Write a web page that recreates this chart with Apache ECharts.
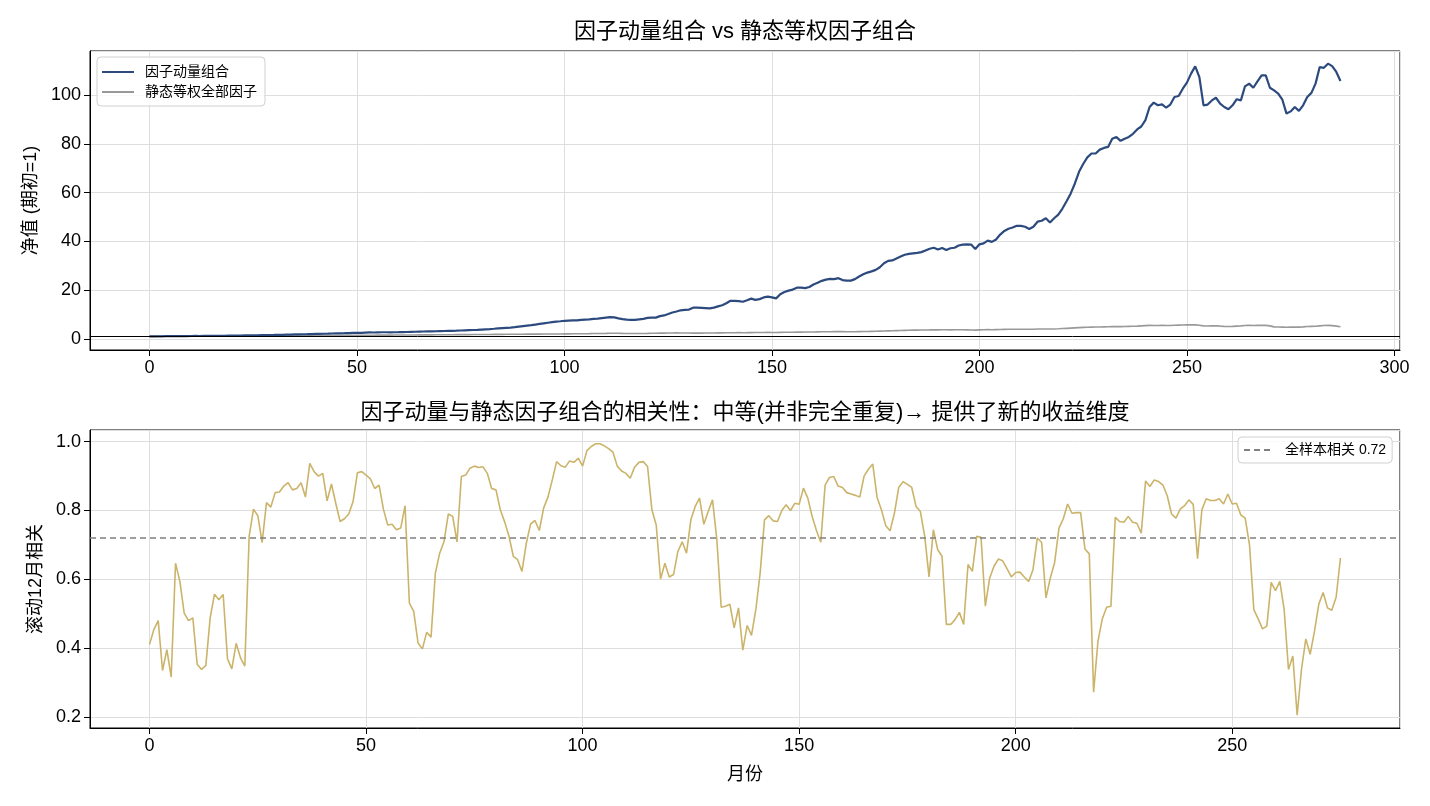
<!DOCTYPE html>
<html>
<head>
<meta charset="utf-8">
<script src="https://cdn.jsdelivr.net/npm/echarts@6/dist/echarts.min.js"></script>
<style>
  html, body { margin: 0; padding: 0; background: #fff; }
  #main { width: 1430px; height: 806px; }
</style>
</head>
<body>
<div id="main"></div>
<script>
// 因子动量组合 净值 (month 0..287)
const momentumNav = [
  1.00, 1.02, 1.04, 1.03, 1.06, 1.08, 1.07, 1.10, 1.12, 1.11,
  1.14, 1.17, 1.16, 1.19, 1.22, 1.21, 1.20, 1.23, 1.26, 1.28,
  1.30, 1.33, 1.35, 1.38, 1.40, 1.42, 1.45, 1.48, 1.50, 1.55,
  1.58, 1.62, 1.65, 1.70, 1.74, 1.78, 1.82, 1.86, 1.90, 1.95,
  2.00, 2.04, 2.08, 2.12, 2.18, 2.22, 2.26, 2.30, 2.36, 2.42,
  2.48, 2.45, 2.55, 2.60, 2.58, 2.66, 2.70, 2.68, 2.64, 2.70,
  2.72, 2.78, 2.80, 2.85, 2.90, 2.95, 3.00, 3.05, 3.02, 3.10,
  3.15, 3.20, 3.25, 3.28, 3.32, 3.40, 3.48, 3.55, 3.62, 3.70,
  3.80, 3.90, 4.00, 4.12, 4.25, 4.38, 4.50, 4.62, 4.80, 5.00,
  5.20, 5.40, 5.60, 5.85, 6.10, 6.35, 6.60, 6.85, 7.05, 7.2,
  7.4, 7.5, 7.6, 7.6, 7.8, 7.9, 8.0, 8.2, 8.3, 8.5,
  8.7, 8.9, 8.8, 8.4, 8.1, 7.9, 7.8, 7.8, 8.0, 8.2,
  8.6, 8.7, 8.7, 9.3, 9.6, 10.2, 10.8, 11.2, 11.7, 11.9,
  12.0, 12.8, 12.8, 12.7, 12.6, 12.5, 12.8, 13.3, 13.8, 14.6,
  15.6, 15.6, 15.5, 15.2, 15.8, 16.5, 16.0, 16.3, 17.0, 17.3,
  17.0, 16.6, 18.3, 19.2, 19.8, 20.2, 21.0, 21.0, 20.8, 21.3,
  22.3, 23.0, 23.8, 24.3, 24.6, 24.5, 24.9, 24.1, 23.9, 23.9,
  24.5, 25.6, 26.5, 27.2, 27.7, 28.3, 29.4, 31.0, 32.0, 32.2,
  33.0, 33.8, 34.5, 34.9, 35.1, 35.3, 35.6, 36.3, 37.0, 37.4,
  36.7, 37.3, 36.5, 37.2, 37.4, 38.3, 38.7, 38.8, 38.7, 36.9,
  38.8, 39.2, 40.3, 39.8, 40.8, 42.8, 44.3, 45.2, 45.7, 46.4,
  46.4, 46.0, 45.1, 46.0, 48.1, 48.5, 49.5, 47.8, 49.5, 51.0,
  53.5, 56.5, 59.7, 63.8, 68.6, 71.8, 74.5, 76.1, 76.1, 77.7,
  78.4, 78.8, 82.2, 82.9, 81.3, 82.2, 82.9, 84.2, 86.0, 87.2,
  89.8, 95.2, 97.0, 95.9, 96.3, 94.9, 96.2, 99.3, 99.7, 102.7,
  105.2, 108.9, 111.9, 107.5, 95.9, 96.2, 97.9, 99.0, 96.6, 95.2,
  94.3, 95.9, 98.4, 97.9, 103.7, 104.8, 103.1, 105.7, 108.2, 108.2,
  103.1, 102.0, 100.7, 98.2, 92.5, 93.4, 95.2, 93.6, 95.9, 99.3,
  101.0, 104.8, 111.6, 111.3, 113.0, 112.0, 109.6, 105.9
];

// 静态等权全部因子 净值
const staticNav = [
  1.00, 1.01, 1.02, 1.02, 1.03, 1.04, 1.04, 1.05, 1.06, 1.06,
  1.07, 1.08, 1.09, 1.08, 1.10, 1.11, 1.11, 1.12, 1.13, 1.13,
  1.14, 1.15, 1.16, 1.17, 1.17, 1.18, 1.19, 1.20, 1.21, 1.21,
  1.22, 1.23, 1.24, 1.25, 1.26, 1.27, 1.28, 1.29, 1.30, 1.31,
  1.32, 1.33, 1.34, 1.35, 1.36, 1.37, 1.38, 1.40, 1.41, 1.42,
  1.43, 1.44, 1.45, 1.47, 1.48, 1.49, 1.50, 1.51, 1.52, 1.53,
  1.54, 1.55, 1.56, 1.57, 1.58, 1.60, 1.61, 1.62, 1.63, 1.64,
  1.65, 1.66, 1.68, 1.69, 1.70, 1.71, 1.72, 1.73, 1.74, 1.76,
  1.77, 1.78, 1.79, 1.80, 1.81, 1.82, 1.84, 1.85, 1.86, 1.87,
  1.88, 1.90, 1.91, 1.92, 1.93, 1.95, 1.96, 1.97, 1.98, 2.00,
  2.02, 2.03, 2.05, 2.06, 2.08, 2.10, 2.12, 2.15, 2.18, 2.20,
  2.22, 2.25, 2.28, 2.26, 2.22, 2.20, 2.18, 2.17, 2.18, 2.20,
  2.22, 2.25, 2.28, 2.32, 2.35, 2.38, 2.40, 2.42, 2.40, 2.38,
  2.36, 2.35, 2.34, 2.35, 2.36, 2.38, 2.40, 2.42, 2.44, 2.46,
  2.48, 2.50, 2.52, 2.50, 2.52, 2.55, 2.56, 2.58, 2.60, 2.62,
  2.60, 2.58, 2.62, 2.66, 2.70, 2.72, 2.75, 2.76, 2.78, 2.80,
  2.82, 2.85, 2.88, 2.90, 2.92, 2.94, 2.95, 2.93, 2.90, 2.90,
  2.92, 2.95, 2.98, 3.00, 3.05, 3.10, 3.15, 3.20, 3.25, 3.30,
  3.35, 3.40, 3.45, 3.50, 3.55, 3.58, 3.60, 3.62, 3.65, 3.70,
  3.68, 3.72, 3.70, 3.68, 3.70, 3.72, 3.70, 3.68, 3.62, 3.55,
  3.65, 3.70, 3.75, 3.72, 3.78, 3.82, 3.86, 3.90, 3.92, 3.95,
  3.95, 3.92, 3.90, 3.95, 4.00, 4.02, 4.05, 4.00, 4.05, 4.10,
  4.20, 4.30, 4.40, 4.50, 4.60, 4.70, 4.75, 4.80, 4.82, 4.85,
  4.90, 4.95, 5.00, 5.05, 5.02, 5.05, 5.10, 5.15, 5.20, 5.30,
  5.40, 5.50, 5.48, 5.45, 5.50, 5.45, 5.48, 5.55, 5.60, 5.65,
  5.70, 5.72, 5.70, 5.55, 5.30, 5.25, 5.30, 5.35, 5.20, 5.10,
  5.05, 5.10, 5.20, 5.30, 5.45, 5.50, 5.45, 5.50, 5.55, 5.50,
  5.30, 4.90, 4.85, 4.80, 4.75, 4.80, 4.85, 4.80, 4.90, 5.05,
  5.10, 5.15, 5.30, 5.45, 5.50, 5.40, 5.20, 4.95
];

// 滚动12月相关 (month 0..275)
const rollingCorr = [
  0.411, 0.454, 0.480, 0.335, 0.396, 0.316, 0.647, 0.594, 0.502, 0.480,
  0.488, 0.353, 0.338, 0.350, 0.488, 0.557, 0.541, 0.556, 0.369, 0.340,
  0.414, 0.372, 0.348, 0.725, 0.804, 0.785, 0.707, 0.823, 0.810, 0.852,
  0.854, 0.871, 0.881, 0.860, 0.864, 0.881, 0.839, 0.937, 0.913, 0.900,
  0.908, 0.828, 0.877, 0.821, 0.768, 0.776, 0.790, 0.826, 0.910, 0.913,
  0.903, 0.892, 0.864, 0.874, 0.804, 0.758, 0.760, 0.744, 0.749, 0.814,
  0.531, 0.507, 0.415, 0.398, 0.446, 0.432, 0.618, 0.676, 0.710, 0.790,
  0.783, 0.709, 0.899, 0.903, 0.923, 0.929, 0.925, 0.927, 0.908, 0.864,
  0.860, 0.802, 0.767, 0.725, 0.667, 0.657, 0.623, 0.705, 0.761, 0.771,
  0.742, 0.807, 0.839, 0.889, 0.942, 0.930, 0.926, 0.944, 0.940, 0.952,
  0.929, 0.974, 0.986, 0.994, 0.994, 0.988, 0.980, 0.970, 0.929, 0.915,
  0.908, 0.894, 0.926, 0.940, 0.942, 0.928, 0.802, 0.758, 0.601, 0.647,
  0.607, 0.614, 0.681, 0.709, 0.676, 0.773, 0.812, 0.836, 0.760, 0.797,
  0.831, 0.715, 0.519, 0.522, 0.528, 0.459, 0.517, 0.394, 0.466, 0.437,
  0.512, 0.618, 0.773, 0.785, 0.770, 0.768, 0.800, 0.817, 0.800, 0.821,
  0.818, 0.865, 0.836, 0.783, 0.742, 0.708, 0.874, 0.896, 0.899, 0.871,
  0.867, 0.852, 0.848, 0.844, 0.839, 0.900, 0.920, 0.935, 0.838, 0.802,
  0.756, 0.741, 0.792, 0.867, 0.884, 0.876, 0.867, 0.812, 0.797, 0.725,
  0.607, 0.744, 0.686, 0.667, 0.469, 0.469, 0.483, 0.504, 0.469, 0.643,
  0.623, 0.725, 0.722, 0.522, 0.604, 0.638, 0.659, 0.654, 0.631, 0.607,
  0.620, 0.621, 0.607, 0.594, 0.628, 0.720, 0.707, 0.546, 0.604, 0.649,
  0.749, 0.776, 0.819, 0.792, 0.794, 0.794, 0.688, 0.674, 0.272, 0.420,
  0.485, 0.519, 0.522, 0.780, 0.768, 0.766, 0.783, 0.766, 0.763, 0.734,
  0.886, 0.870, 0.889, 0.884, 0.874, 0.843, 0.790, 0.778, 0.804, 0.814,
  0.831, 0.818, 0.660, 0.802, 0.834, 0.829, 0.829, 0.834, 0.819, 0.848,
  0.819, 0.821, 0.787, 0.778, 0.700, 0.512, 0.485, 0.456, 0.464, 0.591,
  0.567, 0.594, 0.512, 0.338, 0.377, 0.205, 0.338, 0.427, 0.382, 0.449,
  0.528, 0.562, 0.517, 0.510, 0.548, 0.662
];

const fullSampleCorr = 0.72;
const navBase = 1;

const FONT = "'Liberation Sans', 'Noto Sans CJK SC', sans-serif";

function toPairs(arr) {
  return arr.map((v, i) => [i, v]);
}

var myChart = echarts.init(document.getElementById('main'));

const axisCommon = {
  axisLine: { show: true, onZero: false, lineStyle: { color: '#000', width: 1 } },
  axisTick: { show: true, length: 6, lineStyle: { color: '#000' } },
  axisLabel: { color: '#000', fontSize: 18, fontFamily: FONT, margin: 9, showMinLabel: false, showMaxLabel: false },
  splitLine: { show: true, lineStyle: { color: '#dedede', width: 1 } }
};

const nameStyle = { fontSize: 18, color: '#000', fontFamily: FONT };

var option = {
  animation: false,
  backgroundColor: '#fff',
  title: [
    {
      text: '因子动量组合 vs 静态等权因子组合',
      left: 745, top: 21, textAlign: 'center', padding: 0,
      textStyle: { fontSize: 22, fontWeight: 'normal', color: '#000', fontFamily: FONT }
    },
    {
      text: '因子动量与静态因子组合的相关性：中等(并非完全重复)→ 提供了新的收益维度',
      left: 745, top: 402, textAlign: 'center', padding: 0,
      textStyle: { fontSize: 22, fontWeight: 'normal', color: '#000', fontFamily: FONT }
    }
  ],
  legend: [
    {
      data: ['因子动量组合', '静态等权全部因子'],
      orient: 'vertical',
      left: 97, top: 57,
      padding: [8, 8, 7, 4],
      itemWidth: 32, itemHeight: 12, itemGap: 6,
      borderColor: '#d0d0d0', borderWidth: 1, borderRadius: 4,
      backgroundColor: 'rgba(255,255,255,0.8)',
      itemStyle: { opacity: 0 },
      textStyle: { fontSize: 14, color: '#000', fontFamily: FONT, padding: [0, 0, 0, 6] }
    },
    {
      data: ['全样本相关 ' + fullSampleCorr],
      orient: 'vertical',
      left: 1238, top: 437,
      padding: [6, 6, 6, 5],
      itemWidth: 28, itemHeight: 12,
      borderColor: '#d0d0d0', borderWidth: 1, borderRadius: 4,
      backgroundColor: 'rgba(255,255,255,0.8)',
      itemStyle: { opacity: 0 },
      textStyle: { fontSize: 14, color: '#000', fontFamily: FONT, padding: [0, 0, 0, 8] }
    }
  ],
  grid: [
    { left: 90, right: 30, top: 51, height: 299, show: true, borderColor: '#000', borderWidth: 1, backgroundColor: 'transparent' },
    { left: 90, right: 30, top: 430, height: 298, show: true, borderColor: '#000', borderWidth: 1, backgroundColor: 'transparent' }
  ],
  xAxis: [
    Object.assign({}, axisCommon, { type: 'value', gridIndex: 0, min: -14.35, max: 301.35, splitNumber: 6 }),
    Object.assign({}, axisCommon, {
      type: 'value', gridIndex: 1, min: -13.75, max: 288.75, splitNumber: 6,
      name: '月份', nameLocation: 'middle', nameGap: 38, nameTextStyle: nameStyle
    })
  ],
  yAxis: [
    Object.assign({}, axisCommon, {
      type: 'value', gridIndex: 0, min: -4.6, max: 118.2, splitNumber: 5,
      name: '净值 (期初=1)', nameLocation: 'middle', nameGap: 48, nameRotate: 90, nameTextStyle: nameStyle
    }),
    Object.assign({}, axisCommon, {
      type: 'value', gridIndex: 1, min: 0.168, max: 1.034, splitNumber: 4,
      name: '滚动12月相关', nameLocation: 'middle', nameGap: 45, nameRotate: 90, nameTextStyle: nameStyle,
      axisLabel: Object.assign({}, axisCommon.axisLabel, { formatter: v => v.toFixed(1) })
    })
  ],
  series: [
    {
      name: '静态等权全部因子', type: 'line', xAxisIndex: 0, yAxisIndex: 0,
      data: toPairs(staticNav), symbol: 'none',
      lineStyle: { color: '#999999', width: 1.6 }, itemStyle: { color: '#999999' }, z: 2
    },
    {
      name: '因子动量组合', type: 'line', xAxisIndex: 0, yAxisIndex: 0,
      data: toPairs(momentumNav), symbol: 'none',
      lineStyle: { color: '#2c4a7e', width: 2.2 }, itemStyle: { color: '#2c4a7e' }, z: 3
    },
    {
      name: 'base', type: 'line', xAxisIndex: 0, yAxisIndex: 0, data: [], symbol: 'none',
      markLine: {
        silent: true, symbol: ['none', 'none'], label: { show: false },
        lineStyle: { color: '#000', width: 1, type: 'solid' },
        data: [{ yAxis: navBase }]
      }, z: 4
    },
    {
      name: '滚动相关', type: 'line', xAxisIndex: 1, yAxisIndex: 1,
      data: toPairs(rollingCorr), symbol: 'none',
      lineStyle: { color: '#cbb46a', width: 1.6 }, itemStyle: { color: '#cbb46a' }, z: 3
    },
    {
      name: '全样本相关 ' + fullSampleCorr, type: 'line', xAxisIndex: 1, yAxisIndex: 1,
      data: [], symbol: 'none',
      lineStyle: { color: '#808080', width: 1.5, type: [6, 4] }, itemStyle: { color: '#808080' },
      markLine: {
        silent: true, symbol: ['none', 'none'], label: { show: false },
        lineStyle: { color: '#808080', width: 1.5, type: [6, 4] },
        data: [{ yAxis: fullSampleCorr }]
      }, z: 2
    }
  ]
};

myChart.setOption(option);
</script>
</body>
</html>
